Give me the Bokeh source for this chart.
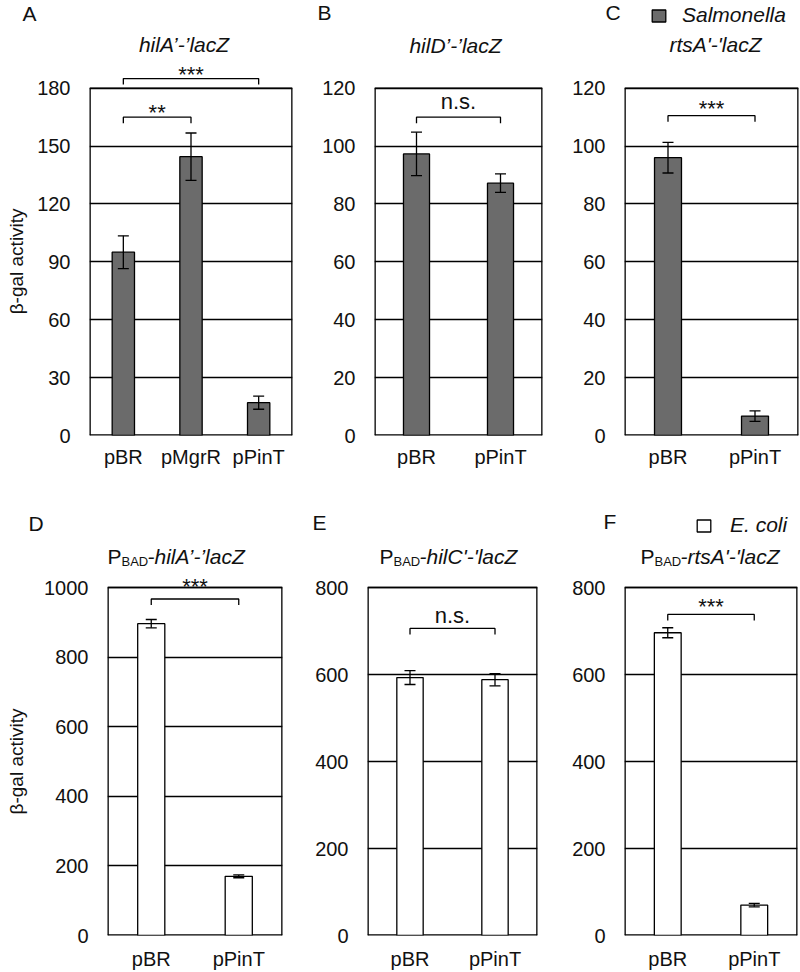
import math
from bokeh.plotting import figure
from bokeh.layouts import row, column
from bokeh.models import (ColumnDataSource, FactorRange, Range1d, FixedTicker, Whisker, TeeHead,
                          Label, LabelSet, Legend, LegendItem)
from bokeh.core.properties import value
from bokeh.embed import file_html
from bokeh.resources import INLINE

# ---------------- data ----------------
cats_A = ["pBR", "pMgrR", "pPinT"]
vals_A = [95.0, 144.5, 17.0]
errs_A = [8.5, 12.3, 3.4]
ticks_A = [0, 30, 60, 90, 120, 150, 180]
sig_pairs_A = [(0, 1), (0, 2)]
sig_y_A = [165.0, 185.0]
sig_text_A = ["**", "***"]

cats_B = ["pBR", "pPinT"]
vals_B = [97.3, 87.2]
errs_B = [7.5, 3.2]
ticks_B = [0, 20, 40, 60, 80, 100, 120]
sig_pairs_B = [(0, 1)]
sig_y_B = [110.0]
sig_text_B = ["n.s."]

cats_C = ["pBR", "pPinT"]
vals_C = [96.0, 6.7]
errs_C = [5.3, 1.8]
ticks_C = [0, 20, 40, 60, 80, 100, 120]
sig_pairs_C = [(0, 1)]
sig_y_C = [110.5]
sig_text_C = ["***"]

cats_D = ["pBR", "pPinT"]
vals_D = [896.0, 170.0]
errs_D = [12.0, 4.0]
ticks_D = [0, 200, 400, 600, 800, 1000]
sig_pairs_D = [(0, 1)]
sig_y_D = [967.0]
sig_text_D = ["***"]

cats_E = ["pBR", "pPinT"]
vals_E = [593.0, 588.0]
errs_E = [16.0, 14.0]
ticks_E = [0, 200, 400, 600, 800]
sig_pairs_E = [(0, 1)]
sig_y_E = [706.0]
sig_text_E = ["n.s."]

cats_F = ["pBR", "pPinT"]
vals_F = [696.0, 70.0]
errs_F = [11.5, 4.0]
ticks_F = [0, 200, 400, 600, 800]
sig_pairs_F = [(0, 1)]
sig_y_F = [738.0]
sig_text_F = ["***"]

panel_letters_top = ["A", "B", "C"]
panel_letters_bottom = ["D", "E", "F"]
y_label = "β-gal activity"
legend_top = "Salmonella"
legend_bottom = "E. coli"

FONT = "Liberation Sans"
GRAY = "#6b6b6b"
INK = "#111111"
LW = 1.3


def blank(width, height, bottom=0):
    b = figure(width=width, height=height, x_range=Range1d(0, width),
               y_range=Range1d(0, height - bottom), output_backend="svg",
               toolbar_location=None, min_border=0, min_border_left=0, min_border_right=0,
               min_border_top=0, min_border_bottom=bottom)
    b.axis.visible = False
    b.grid.grid_line_color = None
    b.outline_line_color = None
    b.background_fill_color = "white"
    b.border_fill_color = "white"
    return b


def make_panel(cats, vals, errs, ticks, pairs, sig_y, sig_text, fill, *,
               height, bottom, ext, width, left, right, bar_w=0.31, x_standoff=10,
               txt_gap=0.0, tick_px=6):
    frame_h = height - bottom
    ymax = ticks[-1]
    yend = ymax * frame_h / (frame_h - ext)
    k = yend / frame_h  # data units per pixel
    p = figure(x_range=FactorRange(*cats, range_padding=0), y_range=Range1d(0, yend),
               width=width, height=height, output_backend="svg", toolbar_location=None,
               min_border_left=left, min_border_right=right, min_border_top=0,
               min_border_bottom=bottom)
    p.outline_line_color = None
    p.background_fill_color = "white"
    p.border_fill_color = "white"
    p.xgrid.grid_line_color = None
    p.ygrid.grid_line_color = "black"
    p.ygrid.grid_line_width = LW
    p.yaxis.ticker = FixedTicker(ticks=ticks)
    for ax in (p.xaxis, p.yaxis):
        ax.axis_line_color = None
        ax.major_tick_line_color = None
        ax.minor_tick_line_color = None
        ax.major_tick_out = 0
        ax.major_tick_in = 0
        ax.major_label_text_font = FONT
        ax.major_label_text_font_size = "20px"
        ax.major_label_text_color = INK
    p.yaxis.major_label_standoff = 19
    p.xaxis.major_label_standoff = x_standoff

    n = len(cats)
    # frame box around the data area (0..ymax)
    p.segment(x0=[0, n, 0], y0=[0, 0, 0], x1=[0, n, n], y1=[ymax, ymax, 0],
              line_color="black", line_width=2 * LW)
    p.segment(x0=[0], y0=[ymax], x1=[n], y1=[ymax], line_color="black", line_width=LW)

    src = ColumnDataSource(dict(cat=cats, val=vals,
                                upper=[v + e for v, e in zip(vals, errs)],
                                lower=[v - e for v, e in zip(vals, errs)]))
    p.vbar(x="cat", top="val", width=bar_w, source=src, fill_color=fill,
           line_color="black", line_width=LW)
    p.add_layout(Whisker(source=src, base="cat", upper="upper", lower="lower", line_width=LW,
                         line_color="black", level="overlay",
                         upper_head=TeeHead(size=11, line_width=LW, line_color="black"),
                         lower_head=TeeHead(size=11, line_width=LW, line_color="black")))

    # significance brackets
    xs, ys, tx, ty, tt = [], [], [], [], []
    for (i, j), yv, t in zip(pairs, sig_y, sig_text):
        a, b = i + 0.5, j + 0.5
        xs.append([a, a, b, b])
        ys.append([yv - tick_px * k, yv, yv, yv - tick_px * k])
        tx.append((a + b) / 2)
        ty.append(yv + txt_gap * k)
        tt.append(t)
    p.multi_line(xs=xs, ys=ys, line_color="black", line_width=LW)
    p.add_layout(LabelSet(x="x", y="y", text="t",
                          source=ColumnDataSource(dict(x=tx, y=ty, t=tt)),
                          text_align="center", text_baseline="alphabetic",
                          text_font=value(FONT), text_font_size=value("22px"),
                          text_color=INK))
    p._k = k
    p._yend = yend
    p._n = n
    return p


def add_label(p, text, x, dx, baseline_px, size="21px", style="normal", align="left"):
    # baseline_px: distance of the text baseline below the top of the plotting frame
    p.add_layout(Label(x=x, y=p._yend - baseline_px * p._k, x_offset=dx, text=text,
                       text_font=FONT, text_font_size=size, text_font_style=style,
                       text_align=align, text_baseline="alphabetic", text_color=INK))


TOP = dict(height=440, bottom=33, ext=58)
BOT = dict(height=432, bottom=37, ext=47)

pA = make_panel(cats_A, vals_A, errs_A, ticks_A, sig_pairs_A, sig_y_A, sig_text_A, GRAY,
                width=289, left=59, right=27, bar_w=0.33, txt_gap=-3, **TOP)
pB = make_panel(cats_B, vals_B, errs_B, ticks_B, sig_pairs_B, sig_y_B, sig_text_B, GRAY,
                width=250, left=54, right=27, txt_gap=8, **TOP)
pC = make_panel(cats_C, vals_C, errs_C, ticks_C, sig_pairs_C, sig_y_C, sig_text_C, GRAY,
                width=231, left=54, right=2, txt_gap=0, **TOP)
pD = make_panel(cats_D, vals_D, errs_D, ticks_D, sig_pairs_D, sig_y_D, sig_text_D, "white",
                width=282, left=77, right=30, x_standoff=12, txt_gap=5, **BOT)
pE = make_panel(cats_E, vals_E, errs_E, ticks_E, sig_pairs_E, sig_y_E, sig_text_E, "white",
                width=257, left=55, right=32, x_standoff=12, txt_gap=5, **BOT)
pF = make_panel(cats_F, vals_F, errs_F, ticks_F, sig_pairs_F, sig_y_F, sig_text_F, "white",
                width=231, left=54, right=3, x_standoff=12, txt_gap=0, **BOT)

# top titles (centered on the frame)
add_label(pA, "hilA\u2019-\u2019lacZ", pA._n / 2, -7, 14, style="italic", align="center")
add_label(pB, "hilD\u2019-\u2019lacZ", pB._n / 2, -3, 15, style="italic", align="center")
add_label(pC, "rtsA'-'lacZ", pC._n / 2, 4, 14, style="italic", align="center")

# bottom titles P_BAD-...
for p, rest, x0 in ((pD, "-hilA\u2019-\u2019lacZ", 0), (pE, "-hilC'-'lacZ", 12),
                    (pF, "-rtsA'-'lacZ", 16)):
    add_label(p, "P", 0, x0, 16)
    add_label(p, "BAD", 0, x0 + 14, 21, size="13px")
    add_label(p, rest, 0, x0 + 40, 16, style="italic")


def ylabel_strip(height, bottom, center_from_bottom):
    s = blank(30, height, bottom)
    s.text(x=[16], y=[center_from_bottom], text=[y_label], angle=math.pi / 2,
           text_font=value(FONT), text_font_size=value("19px"), text_color=INK,
           text_align="center", text_baseline="middle")
    return s


ylabA = ylabel_strip(440, 33, 175)
ylabD = ylabel_strip(432, 37, 174)


def make_band(height, letters, letter_x, letter_y, leg_label, leg_fill, leg_loc, leg_standoff):
    b = blank(800, height)
    b.text(x=letter_x, y=letter_y, text=letters, text_font=value(FONT),
           text_font_size=value("21px"), text_color=INK, text_baseline="alphabetic")
    key = b.vbar(x=[float("nan")], top=[float("nan")], width=1, fill_color=leg_fill,
                 line_color="black", line_width=LW)
    lg = Legend(items=[LegendItem(label=value(leg_label), renderers=[key])], location=leg_loc,
                glyph_width=17, glyph_height=15, label_standoff=leg_standoff,
                padding=0, margin=0, spacing=0, border_line_color=None,
                background_fill_alpha=0, label_text_font=FONT, label_text_font_size="21px",
                label_text_font_style="italic", label_text_color=INK)
    b.add_layout(lg)
    return b


band_top = make_band(30, panel_letters_top, [22, 317, 605], [17, 18, 18],
                     legend_top, GRAY, (650, 3), 15)
band_bot = make_band(70, panel_letters_bottom, [28, 312, 603], [17, 18, 19],
                     legend_bottom, "white", (695, 3), 18)

layout = column(band_top, row(ylabA, pA, pB, pC), band_bot, row(ylabD, pD, pE, pF))
open("out.html", "w").write(file_html(layout, INLINE))
